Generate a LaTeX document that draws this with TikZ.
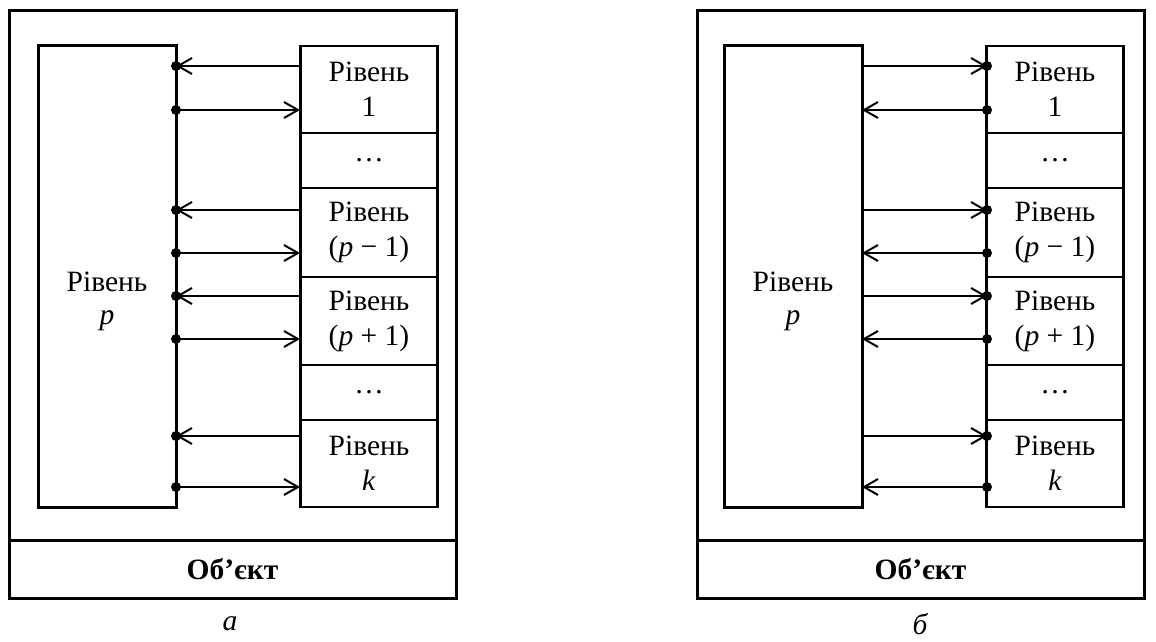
\documentclass[tikz,border=0pt]{standalone}
\usepackage{fontspec}
\setmainfont{Liberation Serif}
\usetikzlibrary{arrows.meta}
\begin{document}
\begin{tikzpicture}[x=1pt,y=-1pt,
  frame/.style={draw,line width=3pt,inner sep=0pt},
  cell/.style={draw,line width=2.5pt,minimum width=137pt,align=center,inner sep=0pt,font=\fontsize{29.5}{35}\selectfont},
  lbl/.style={align=center,inner sep=0pt,font=\fontsize{29.5}{33}\selectfont},
  conn/.style={line width=2pt,-{Straight Barb[length=14pt,width=16pt,line width=2pt]}},
  dot/.style={circle,fill,inner sep=0pt,minimum size=10pt}]
\useasboundingbox (0,0) rectangle (1156,642);
% ---------------- diagram a ----------------
\node[frame,minimum width=447pt,minimum height=529pt] (Aout) at (232.5,275.5) {};
\node[frame,minimum width=447pt,minimum height=58pt,font=\fontsize{29.5}{34}\selectfont\bfseries] (Aobj) at (232.5,569) {Об’єкт};
\node[frame,minimum width=138pt,minimum height=461pt] (Ap) at (107,276.5) {};
\node[lbl] (Apl) at (107,301) {Рівень\\\textit{p}};
\node[cell,minimum height=87pt] (A1) at (369,89.5) {Рівень\\1};
\node[cell,minimum height=55pt] (A2) at (369,160.5) {…};
\node[cell,minimum height=89pt] (A3) at (369,232.5) {Рівень\\(\textit{p} − 1)};
\node[cell,minimum height=88pt] (A4) at (369,321) {Рівень\\(\textit{p} + 1)};
\node[cell,minimum height=55pt] (A5) at (369,392.5) {…};
\node[cell,minimum height=87pt] (A6) at (369,463.5) {Рівень\\\textit{k}};
\foreach \y [count=\i] in {66,110,210,253,296,339,436,487} {
  \node[dot] (ad\i) at (176,\y) {};
  \coordinate (ac\i) at (300,\y);
  \ifodd\i
    \draw[conn] (ac\i) -- (ad\i.center);
  \else
    \draw[conn] (ad\i.center) -- (ac\i);
  \fi
}
\node[lbl,font=\fontsize{29.5}{34}\selectfont\itshape] (Acap) at (230,624) {а};
% ---------------- diagram b ----------------
\node[frame,minimum width=447pt,minimum height=529pt] (Bout) at (920.5,275.5) {};
\node[frame,minimum width=447pt,minimum height=58pt,font=\fontsize{29.5}{34}\selectfont\bfseries] (Bobj) at (920.5,569) {Об’єкт};
\node[frame,minimum width=138pt,minimum height=461pt] (Bp) at (793,276.5) {};
\node[lbl] (Bpl) at (793,301) {Рівень\\\textit{p}};
\node[cell,minimum height=87pt] (B1) at (1055,89.5) {Рівень\\1};
\node[cell,minimum height=55pt] (B2) at (1055,160.5) {…};
\node[cell,minimum height=89pt] (B3) at (1055,232.5) {Рівень\\(\textit{p} − 1)};
\node[cell,minimum height=88pt] (B4) at (1055,321) {Рівень\\(\textit{p} + 1)};
\node[cell,minimum height=55pt] (B5) at (1055,392.5) {…};
\node[cell,minimum height=87pt] (B6) at (1055,463.5) {Рівень\\\textit{k}};
\foreach \y [count=\i] in {66,110,210,253,296,339,436,487} {
  \node[dot] (bd\i) at (987,\y) {};
  \coordinate (bc\i) at (862,\y);
  \ifodd\i
    \draw[conn] (bc\i) -- (bd\i.center);
  \else
    \draw[conn] (bd\i.center) -- (bc\i);
  \fi
}
\node[lbl,font=\fontsize{29.5}{34}\selectfont\itshape] (Bcap) at (920,624) {б};
\end{tikzpicture}
\end{document}
